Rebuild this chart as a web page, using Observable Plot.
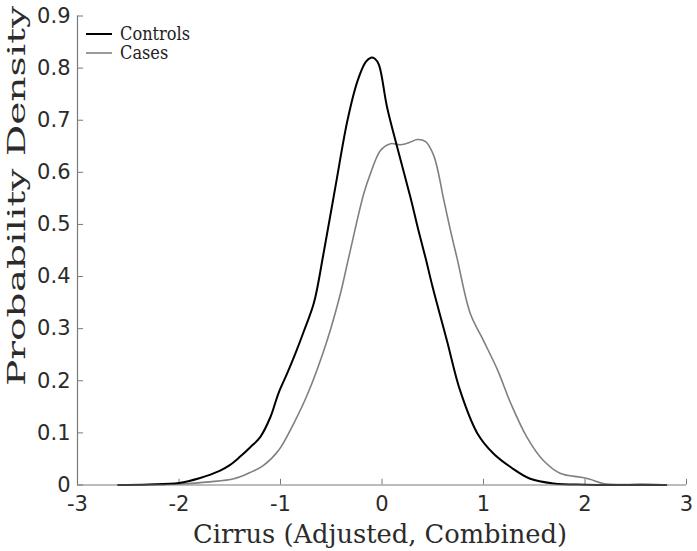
<!DOCTYPE html>
<html>
<head>
<meta charset="utf-8">
<script src="https://cdn.jsdelivr.net/npm/d3@7"></script>
<script src="https://cdn.jsdelivr.net/npm/@observablehq/plot@0.6"></script>
<style>
  html, body { margin: 0; padding: 0; background: #fff; }
  #wrap { position: relative; width: 697px; height: 551px; }
  #legend { position: absolute; left: 86px; top: 24px; font-family: "DejaVu Serif Condensed", "DejaVu Serif", serif; font-stretch: condensed; font-size: 18px; color: #222; line-height: 19px; }
  #legend .row { display: flex; align-items: center; }
  #legend svg { margin-right: 8px; }
</style>
</head>
<body>
<div id="wrap"></div>
<script>
const xTicks = [-3, -2, -1, 0, 1, 2, 3];
const yTicks = [0, 0.1, 0.2, 0.3, 0.4, 0.5, 0.6, 0.7, 0.8, 0.9];

const controlsX = [-2.6, -2.3, -2.0, -1.8, -1.6, -1.5, -1.4, -1.3, -1.2, -1.1, -1.02, -0.93, -0.85, -0.77, -0.67, -0.58, -0.46, -0.34, -0.24, -0.16, -0.11, -0.07, -0.03, 0.05, 0.15, 0.28, 0.36, 0.43, 0.5, 0.64, 0.77, 0.94, 1.1, 1.27, 1.46, 1.69, 2.0, 2.4, 2.8];
const controlsY = [0, 0.001, 0.004, 0.013, 0.027, 0.038, 0.054, 0.072, 0.092, 0.13, 0.176, 0.216, 0.254, 0.295, 0.35, 0.44, 0.571, 0.70, 0.776, 0.812, 0.82, 0.818, 0.806, 0.725, 0.648, 0.552, 0.488, 0.435, 0.379, 0.277, 0.181, 0.099, 0.060, 0.034, 0.012, 0.003, 0.0005, 0, 0];

const casesX = [-2.4, -2.0, -1.7, -1.46, -1.3, -1.17, -1.02, -0.87, -0.73, -0.54, -0.41, -0.33, -0.18, -0.113, -0.015, 0.084, 0.182, 0.28, 0.347, 0.429, 0.51, 0.61, 0.675, 0.741, 0.87, 1.0, 1.14, 1.27, 1.43, 1.59, 1.76, 1.96, 2.05, 2.18, 2.4, 2.55, 2.8];
const casesY = [0, 0.002, 0.006, 0.012, 0.024, 0.037, 0.066, 0.118, 0.176, 0.278, 0.367, 0.435, 0.559, 0.598, 0.642, 0.655, 0.653, 0.658, 0.663, 0.659, 0.632, 0.546, 0.488, 0.434, 0.329, 0.277, 0.22, 0.156, 0.091, 0.047, 0.022, 0.015, 0.011, 0.003, 0.001, 0.002, 0];

const seriesNames = ["Controls", "Cases"];
const seriesColors = ["#000000", "#808080"];

const controls = controlsX.map((x, i) => ({x, y: controlsY[i]}));
const cases = casesX.map((x, i) => ({x, y: casesY[i]}));

const axisColor = "#7a7a7a";
const textColor = "#2b2b2b";

const chart = Plot.plot({
  width: 697,
  height: 551,
  marginLeft: 77,
  marginRight: 11,
  marginTop: 15.5,
  marginBottom: 66.5,
  style: { fontFamily: "DejaVu Sans", fontSize: "21px", color: textColor, background: "#fff" },
  x: { domain: [-3, 3] },
  y: { domain: [0, 0.9] },
  marks: [
    Plot.axisX(xTicks, { tickSize: 0, tickPadding: 11, label: null, tickFormat: d => String(d) }),
    Plot.axisY(yTicks, { tickSize: 0, tickPadding: 7, label: null, tickFormat: d => String(d) }),
    Plot.ruleX(xTicks, { y1: 0, y2: 0.011, stroke: axisColor, strokeWidth: 1 }),
    Plot.ruleY(yTicks, { x1: -3, x2: -3 + 0.06, stroke: axisColor, strokeWidth: 1 }),
    Plot.line(cases, { x: "x", y: "y", stroke: seriesColors[1], strokeWidth: 1.6, curve: "catmull-rom" }),
    Plot.line(controls, { x: "x", y: "y", stroke: seriesColors[0], strokeWidth: 2, curve: "catmull-rom" }),
    Plot.ruleX([-3], { stroke: axisColor, strokeWidth: 1.2 }),
    Plot.ruleY([0], { stroke: axisColor, strokeWidth: 1.2 })
  ]
});

const svg = d3.select(chart);
const labelFont = "'DejaVu Serif Condensed', 'DejaVu Serif', serif";
svg.append("text")
  .attr("x", 380).attr("y", 543)
  .attr("text-anchor", "middle")
  .attr("font-family", labelFont).attr("font-stretch", "condensed")
  .attr("font-size", 26).attr("fill", textColor)
  .attr("textLength", 374).attr("lengthAdjust", "spacingAndGlyphs")
  .text("Cirrus (Adjusted, Combined)");
svg.append("text")
  .attr("transform", "translate(25,196) rotate(-90)")
  .attr("text-anchor", "middle")
  .attr("font-family", labelFont).attr("font-stretch", "condensed")
  .attr("font-size", 25).attr("fill", textColor)
  .attr("textLength", 380).attr("lengthAdjust", "spacingAndGlyphs")
  .text("Probability Density");

const wrap = document.getElementById("wrap");
wrap.appendChild(chart);

const legend = document.createElement("div");
legend.id = "legend";
seriesNames.forEach((name, i) => {
  const row = document.createElement("div");
  row.className = "row";
  row.innerHTML = `<svg width="26" height="4"><line x1="0" x2="26" y1="2" y2="2" stroke="${seriesColors[i]}" stroke-width="${i === 0 ? 2 : 1.6}"/></svg><span>${name}</span>`;
  legend.appendChild(row);
});
wrap.appendChild(legend);
</script>
</body>
</html>
